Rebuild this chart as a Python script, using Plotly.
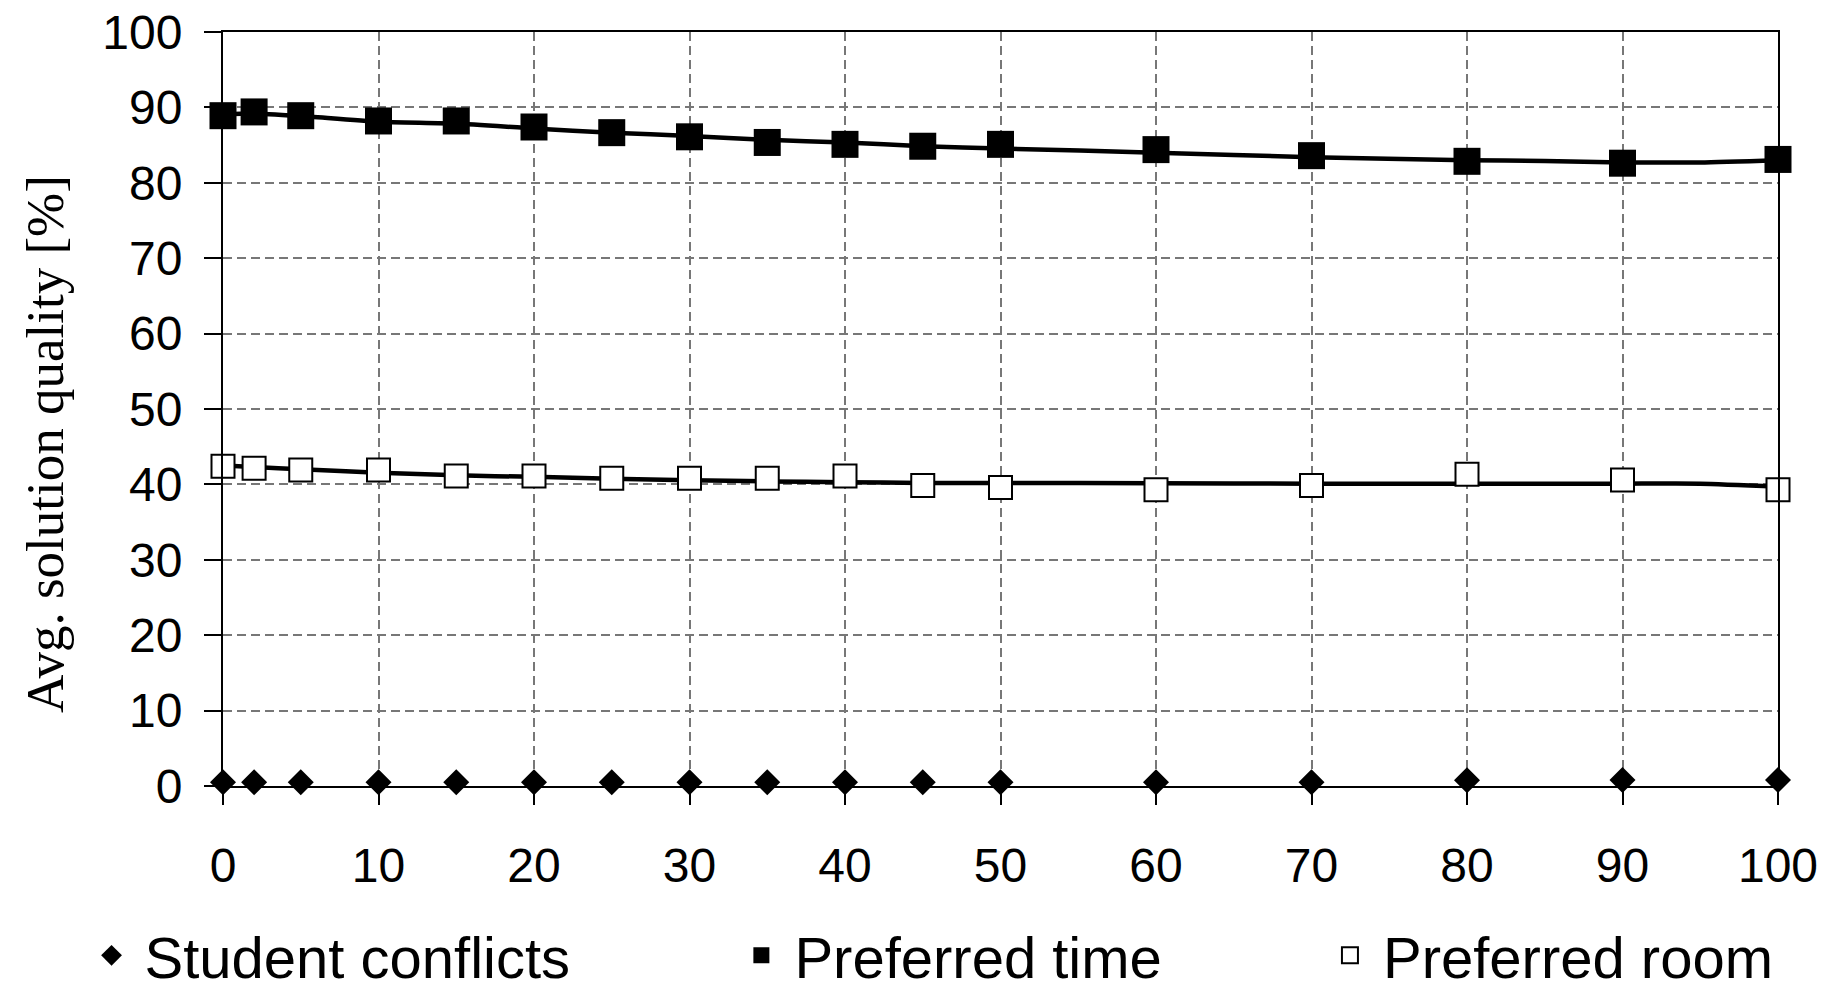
import plotly.graph_objects as go

# ---- data ----
x_vals = [0, 2, 5, 10, 15, 20, 25, 30, 35, 40, 45, 50, 60, 70, 80, 90, 100]
student_conflicts = [0.5, 0.5, 0.5, 0.5, 0.5, 0.5, 0.5, 0.5, 0.5, 0.5, 0.5, 0.5, 0.5, 0.5, 0.75, 0.8, 0.8]
preferred_time = [88.9, 89.4, 88.9, 88.2, 88.2, 87.4, 86.65, 86.1, 85.35, 85.1, 84.85, 85.1, 84.4, 83.6, 82.85, 82.6, 83.1]
preferred_room = [42.4, 42.15, 41.9, 41.9, 41.1, 41.1, 40.8, 40.8, 40.8, 41.1, 39.85, 39.6, 39.3, 39.85, 41.35, 40.6, 39.3]

trend_x = [0, 2, 5, 10, 15, 20, 25, 30, 35, 40, 45, 50, 60, 70, 80, 85, 90, 95, 100]
time_trend = [89.1, 89.2, 88.85, 88.1, 87.85, 87.2, 86.65, 86.2, 85.7, 85.35, 84.85, 84.55, 84.0,
              83.4, 83.0, 82.9, 82.7, 82.7, 83.0]
room_trend = [42.5, 42.3, 42.0, 41.55, 41.2, 41.0, 40.75, 40.55, 40.4, 40.3, 40.2, 40.2, 40.15,
              40.1, 40.1, 40.1, 40.1, 40.1, 39.7]

x_ticks = [0, 10, 20, 30, 40, 50, 60, 70, 80, 90, 100]
y_ticks = [0, 10, 20, 30, 40, 50, 60, 70, 80, 90, 100]

names = ["Student conflicts", "Preferred time", "Preferred room"]
y_title = "Avg. solution quality [%]"

SANS = "Liberation Sans, Arial, sans-serif"
SERIF = "Liberation Serif, Times New Roman, serif"

fig = go.Figure()

# smoothed lines (no legend)
fig.add_trace(go.Scatter(x=trend_x, y=time_trend, mode="lines", showlegend=False,
                         line=dict(color="black", width=4.5, shape="spline", smoothing=0.6),
                         hoverinfo="skip"))
fig.add_trace(go.Scatter(x=trend_x, y=room_trend, mode="lines", showlegend=False,
                         line=dict(color="black", width=4.5, shape="spline", smoothing=0.6),
                         hoverinfo="skip"))

# markers
fig.add_trace(go.Scatter(x=x_vals, y=student_conflicts, mode="markers", name=names[0],
                         marker=dict(symbol="diamond", size=20, color="black"),
                         cliponaxis=False, legend="legend"))
fig.add_trace(go.Scatter(x=x_vals, y=preferred_time, mode="markers", name=names[1],
                         marker=dict(symbol="square", size=27, color="black"),
                         cliponaxis=False, legend="legend2"))
fig.add_trace(go.Scatter(x=x_vals, y=preferred_room, mode="markers", name=names[2],
                         marker=dict(symbol="square", size=23, color="white",
                                     line=dict(color="black", width=2)),
                         cliponaxis=False, legend="legend3"))

axis_common = dict(
    showline=True, linecolor="black", linewidth=2, mirror=True,
    ticks="outside", ticklen=17, tickwidth=1.5, tickcolor="black",
    showgrid=True, gridcolor="#777777", gridwidth=1.5, griddash="9px,5px",
    zeroline=False, tickfont=dict(family=SANS, size=48, color="black"),
    ticklabeloverflow="allow",
)

fig.update_xaxes(range=[0, 100], tickvals=x_ticks, ticklabelstandoff=19, **axis_common)
fig.update_yaxes(range=[0, 100], tickvals=y_ticks, ticklabelstandoff=12, **axis_common)

leg_common = dict(orientation="h", yanchor="middle", y=-0.225, xanchor="left",
                  font=dict(family=SANS, size=58, color="black"), itemwidth=56,
                  bgcolor="rgba(0,0,0,0)", borderwidth=0)

fig.update_layout(
    width=1831, height=977,
    margin=dict(l=215, r=61, t=24, b=199, autoexpand=False),
    plot_bgcolor="white", paper_bgcolor="white",
    legend=dict(x=-0.0929, **leg_common),
    legend2=dict(x=0.3250, **leg_common),
    legend3=dict(x=0.7035, **leg_common),
    annotations=[dict(text=y_title, xref="paper", yref="paper", x=-0.1145, y=0.4536,
                      xanchor="center", yanchor="middle", textangle=-90, showarrow=False,
                      font=dict(family=SERIF, size=53, color="black"))],
)

fig.write_html("out.html")
